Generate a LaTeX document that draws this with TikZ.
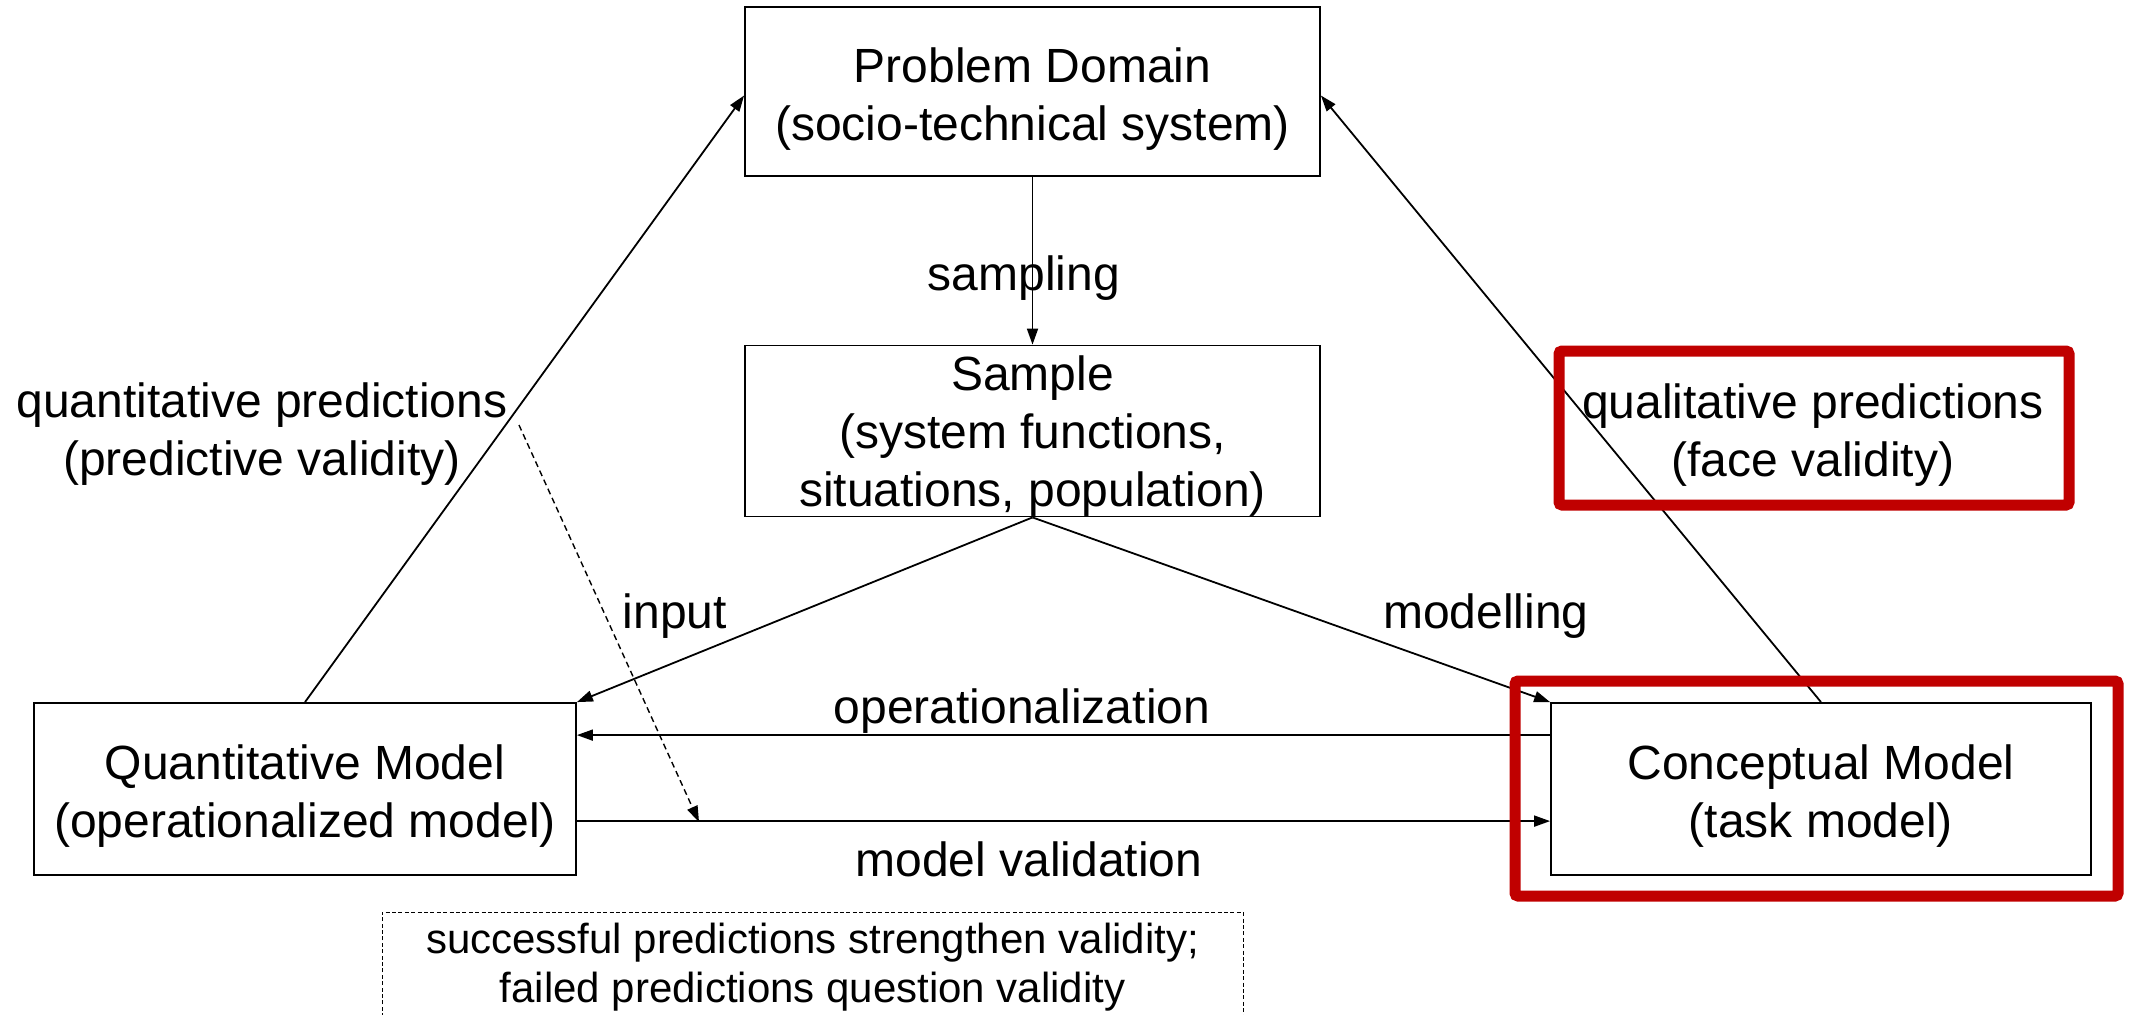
\documentclass[tikz,border=0pt]{standalone}
\usepackage{fontspec}
\setmainfont{Liberation Sans}
\usetikzlibrary{arrows.meta}
\definecolor{hlred}{HTML}{C00000}
\newcommand\boxstrut{\rule{0pt}{24.7pt}}
\newcommand\smallboxstrut{\rule{0pt}{22pt}}
\begin{document}
\begin{tikzpicture}[x=0.5pt,y=-0.5pt,
  box/.style={draw, line width=0.9pt, align=center, inner sep=0pt, font=\fontsize{24}{29}\selectfont},
  lbl/.style={align=center, inner sep=0pt, font=\fontsize{24}{29}\selectfont},
  conn/.style={line width=0.9pt, -{Triangle[length=8pt,width=5.5pt]}},
  hl/.style={draw=hlred, line width=5.5pt, rounded corners=1.5pt},
  dashconn/.style={line width=0.7pt, dash pattern=on 3pt off 2pt, -{Triangle[length=8pt,width=5.5pt]}},
  notebox/.style={line width=0.5pt, dash pattern=on 2pt off 1.2pt}
]
\useasboundingbox (0,0) rectangle (2137,1014);

% boxes
\node[box, minimum width=287.5pt, minimum height=84.5pt] (P) at (1032.5,91.5) {\boxstrut Problem Domain\\(socio-technical system)};
\node[box, minimum width=287.5pt, minimum height=85.5pt] (S) at (1032.5,431) {\smallboxstrut Sample\\(system functions,\\situations, population)};
\node[box, minimum width=271pt, minimum height=86pt] (Q) at (305,789) {\boxstrut Quantitative Model\\(operationalized model)};
\node[box, minimum width=270pt, minimum height=86pt] (C) at (1821,789) {\boxstrut Conceptual Model\\(task model)};

% connectors
\draw[conn] (P.south) -- (S.north);
\draw[conn] (S.south) -- (Q.north east);
\draw[conn] (S.south) -- (C.north west);
\draw[conn] ([yshift=-16.5pt]C.north west) -- ([yshift=-16.5pt]Q.north east);
\draw[conn] ([yshift=-59.5pt]Q.north east) -- ([yshift=-59.5pt]C.north west);
\draw[conn] (Q.north) -- ([yshift=-2pt]P.west);
\draw[conn] (C.north) -- ([yshift=-2pt]P.east);

% labels
\node[lbl] (samp) at (1024,278) {sampling};
\node[lbl] (inp) at (675,616) {input};
\node[lbl] (mod) at (1486,616) {modelling};
\node[lbl] (oper) at (1022,711) {operationalization};
\node[lbl] (val) at (1029,859) {model validation};
\node[lbl] (quant) at (262,434) {quantitative predictions\\(predictive validity)};
\node[lbl] (qual) at (1813,435) {qualitative predictions\\(face validity)};

% highlight boxes
\draw[hl] (1559,351) rectangle (2069,505);
\draw[hl] (1515,681) rectangle (2118,896);

% dashed arrow
\coordinate (da) at (519,425);
\coordinate (db) at (699,822);
\draw[dashconn] (da) -- (db);

% note box
\node[lbl, font=\fontsize{21}{24.5}\selectfont] (note) at (812.5,967) {successful predictions strengthen validity;\\failed predictions question validity};
\draw[notebox] (382,1030) -- (382,912) -- (1243,912) -- (1243,1030);
\end{tikzpicture}
\end{document}
